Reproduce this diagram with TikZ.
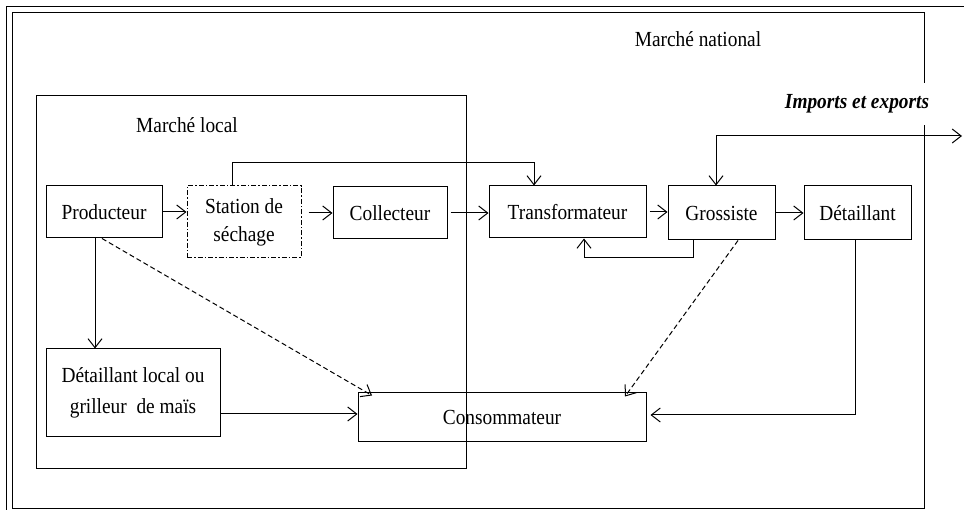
\documentclass[tikz,border=0pt]{standalone}
\usepackage{fontspec}
\setmainfont{Liberation Serif}[FakeStretch=0.9]
\usetikzlibrary{arrows.meta}
\begin{document}
\begin{tikzpicture}[x=1pt,y=-1pt, line width=1pt,
 box/.style={draw, rectangle, inner sep=0pt, align=center, font=\fontsize{21.5}{28}\selectfont},
 arr/.style={-{Straight Barb[length=9pt,width=14pt]}},
 lbl/.style={font=\fontsize{21.5}{24}\selectfont, inner sep=0pt}]
\useasboundingbox (0,0) rectangle (964,510);
% outer frame
\draw (6,510) -- (6,7) -- (964,7);
% national market
\coordinate (n1) at (924,83);
\coordinate (n2) at (924,125);
\draw (n1) -- (924,13) -- (12,13) -- (12,508) -- (924,508) -- (n2);
\node[lbl] (nat) at (698,39) {Marché national};
\node[lbl, font=\bfseries\itshape\fontsize{21.5}{24}\selectfont] (imp) at (857,104) {Imports et exports};
% local market
\draw (36,96) rectangle (466,468);
\node[lbl] (loc) at (187,125) {Marché local};
% boxes
\node[box, minimum width=116pt, minimum height=52pt] (prod) at (104,212) {Producteur};
\node[box, minimum width=114pt, minimum height=72pt, dash pattern=on 5pt off 2pt on 1.5pt off 2pt] (stat) at (244,222) {Station de\\séchage};
\node[box, minimum width=114pt, minimum height=52pt] (coll) at (390,213) {Collecteur};
\node[box, minimum width=157pt, minimum height=52pt] (trans) at (567.5,212) {Transformateur};
\node[box, minimum width=107pt, minimum height=54pt] (gros) at (721.5,213) {Grossiste};
\node[box, minimum width=107pt, minimum height=54pt] (det) at (857.5,213) {Détaillant};
\node[box, minimum width=174pt, minimum height=88pt, font=\fontsize{21.5}{31}\selectfont] (detl) at (133,393) {Détaillant local ou\\grilleur~ de maïs};
\node[box, minimum width=288pt, minimum height=49pt] (cons) at (502,417.5) {Consommateur};
% connectors
\draw[arr] (prod.east) -- (prod.east -| stat.west);
\draw[arr, shorten <=7pt] (stat.east |- coll.west) -- (coll.west);
\draw[arr, shorten <=3pt] (coll.east) -- (coll.east -| trans.west);
\draw[arr, shorten <=3pt] (trans.east) -- (trans.east -| gros.west);
\draw[arr] (gros.east) -- (det.west);
\coordinate (s1) at (232,163);
\coordinate (s2) at (534,163);
\draw[arr] (stat.north -| s1) -- (s1) -- (s2) -- (s2 |- trans.north);
\coordinate (e1) at (716,136);
\coordinate (e2) at (962,136);
\draw[{Straight Barb[length=9pt,width=14pt]}-{Straight Barb[length=9pt,width=14pt]}] (gros.north -| e1) -- (e1) -- (e2);
\coordinate (g1) at (693,258);
\coordinate (g2) at (584,258);
\draw[arr] (gros.south -| g1) -- (g1) -- (g2) -- (g2 |- trans.south);
\coordinate (pd) at (95,300);
\draw[arr] (prod.south -| pd) -- (detl.north -| pd);
\coordinate (pa) at (102,0);
\coordinate (ca) at (372,0);
\draw[arr, dash pattern=on 5pt off 3pt] (prod.south -| pa) -- ([yshift=-3pt]cons.north -| ca);
\coordinate (ga) at (738,0);
\coordinate (cb) at (625,0);
\draw[arr, dash pattern=on 5pt off 3pt] (gros.south -| ga) -- ([yshift=-4pt]cons.north -| cb);
\coordinate (y1) at (0,414);
\draw[arr] (detl.east |- y1) -- (cons.west |- y1);
\coordinate (d1) at (855,415);
\draw[arr, shorten >=4pt] (det.south -| d1) -- (d1) -- (d1 -| cons.east);
\end{tikzpicture}
\end{document}
